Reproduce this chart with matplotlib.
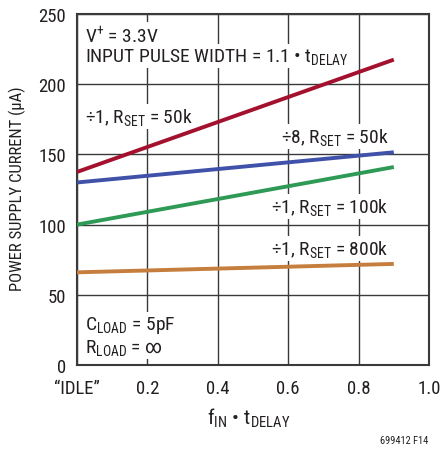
import matplotlib
matplotlib.use("Agg")
import matplotlib.pyplot as plt

fam = 'Roboto Condensed'
plt.rcParams['font.family'] = [fam, 'DejaVu Sans']
plt.rcParams['mathtext.fontset'] = 'custom'
plt.rcParams['mathtext.rm'] = fam
plt.rcParams['mathtext.it'] = fam
plt.rcParams['mathtext.bf'] = fam
plt.rcParams['mathtext.sf'] = fam

# Data
x_vals = [0.0, 0.9]
red_50k_div1 = [137.5, 217.5]
blue_50k_div8 = [130.0, 151.5]
green_100k_div1 = [100.0, 141.0]
orange_800k_div1 = [66.0, 72.0]
xticks = [0.0, 0.2, 0.4, 0.6, 0.8, 1.0]
xticklabels = ['\u201cIDLE\u201d', '0.2', '0.4', '0.6', '0.8', '1.0']
yticks = [0, 50, 100, 150, 200, 250]

fig = plt.figure(figsize=(4.4, 4.52), dpi=100)
ax = fig.add_axes([77/440, 1 - 366/452, 352/440, 351/452])

ax.set_xlim(0, 1.0)
ax.set_ylim(0, 250)
ax.set_xticks(xticks)
ax.set_xticklabels(xticklabels)
ax.set_yticks(yticks)
ax.tick_params(axis='y', length=0, labelsize=13.5, colors='#231f20', pad=8)
ax.tick_params(axis='x', length=0, labelsize=13.5, colors='#231f20', pad=10)
ax.grid(True, color='#3a3a3a', lw=1.0)
ax.set_axisbelow(True)
for s in ax.spines.values():
    s.set_color('#3a3a3a')
    s.set_linewidth(1.5)

lw = 2.8
ax.plot(x_vals, red_50k_div1, color='#a3112e', lw=lw, solid_capstyle='butt', zorder=5)
ax.plot(x_vals, blue_50k_div8, color='#3f51a8', lw=lw, solid_capstyle='butt', zorder=5)
ax.plot(x_vals, green_100k_div1, color='#2f9a55', lw=lw, solid_capstyle='butt', zorder=5)
ax.plot(x_vals, orange_800k_div1, color='#c57e3d', lw=lw, solid_capstyle='butt', zorder=5)

tc = '#231f20'
box = dict(facecolor='white', edgecolor='none', pad=1.5)
fs = 14
ax.text(0.023, 235, r'V$^{+}$ = 3.3V', fontsize=fs, color=tc, va='center', ha='left', bbox=box)
ax.text(0.023, 220, r'INPUT PULSE WIDTH = 1.1 • t$_{\mathrm{DELAY}}$', fontsize=fs, color=tc, va='center', ha='left', bbox=box)
ax.text(0.023, 177, r'÷1, R$_{\mathrm{SET}}$ = 50k', fontsize=fs, color=tc, va='center', ha='left', bbox=box)
ax.text(0.885, 163, r'÷8, R$_{\mathrm{SET}}$ = 50k', fontsize=fs, color=tc, va='center', ha='right', bbox=box)
ax.text(0.885, 113, r'÷1, R$_{\mathrm{SET}}$ = 100k', fontsize=fs, color=tc, va='center', ha='right', bbox=box)
ax.text(0.885, 83, r'÷1, R$_{\mathrm{SET}}$ = 800k', fontsize=fs, color=tc, va='center', ha='right', bbox=box)
ax.text(0.023, 29, r'C$_{\mathrm{LOAD}}$ = 5pF', fontsize=fs, color=tc, va='center', ha='left', bbox=box)
ax.text(0.023, 13, r'R$_{\mathrm{LOAD}}$ = ∞', fontsize=fs, color=tc, va='center', ha='left', bbox=box)

ax.set_ylabel('POWER SUPPLY CURRENT (\u03bcA)', fontsize=12, color=tc)
ax.yaxis.set_label_coords(-51/352, 0.505)
ax.set_xlabel(r'f$_{\mathrm{IN}}$ • t$_{\mathrm{DELAY}}$', fontsize=15, color=tc)
ax.xaxis.set_label_coords(172/352, -0.115)

fig.text(428/440, 1 - 441/452, '699412 F14', fontsize=7.5, color=tc, ha='right', va='center')

fig.savefig('out.png', dpi=100)
